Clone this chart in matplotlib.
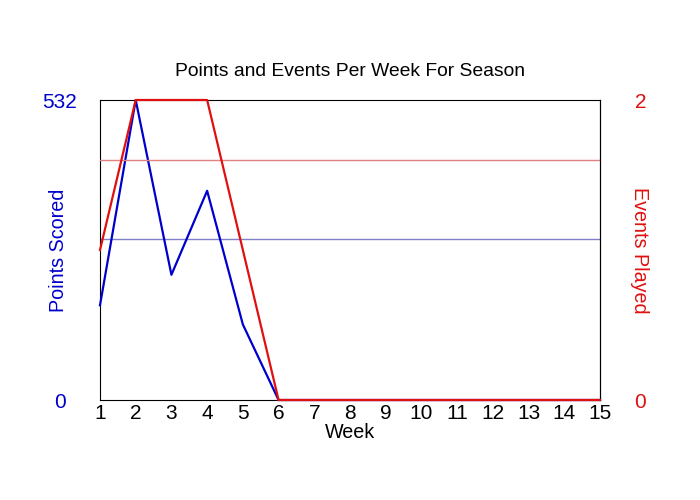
import matplotlib
matplotlib.use("Agg")
import matplotlib.pyplot as plt

plt.rcParams['font.family'] = ['Liberation Sans', 'DejaVu Sans']

weeks = list(range(1, 16))
points = [168, 532, 222, 371, 134, 0, 0, 0, 0, 0, 0, 0, 0, 0, 0]
events = [1, 2, 2, 2, 1, 0, 0, 0, 0, 0, 0, 0, 0, 0, 0]
played_weeks = 5  # weeks with events, used for the average lines

avg_points = sum(points[:played_weeks]) / played_weeks
avg_events = sum(events[:played_weeks]) / played_weeks

fig = plt.figure(figsize=(7, 5), dpi=100)
ax = fig.add_axes([100 / 700, 0.2, 500 / 700, 0.6])
ax2 = ax.twinx()
for side in ['left', 'top', 'bottom']:
    ax2.spines[side].set_visible(False)

ax.axhline(avg_points, color='#8080c8', lw=1)
ax2.axhline(avg_events, color='#e08080', lw=1)
ax.plot(weeks, points, color='#0000cc', lw=1.6, clip_on=False, zorder=3)
ax2.plot(weeks, events, color='#e01010', lw=1.6, clip_on=False, zorder=3)

ax.set_xlim(1, 15)
ax.set_ylim(0, max(points))
ax2.set_ylim(0, max(events))
ax.set_xticks(weeks)
ax.set_yticks([0, max(points)])
ax2.set_yticks([0, max(events)])

ax.tick_params(axis='x', length=0, pad=3, labelsize=15)
ax.tick_params(axis='y', length=0, pad=29, labelsize=15, labelcolor='#0000cc')
ax2.tick_params(axis='y', length=0, pad=29, labelsize=15, labelcolor='#e01010')
for lbl in ax.get_yticklabels() + ax2.get_yticklabels():
    lbl.set_horizontalalignment('center')

ax.set_xlabel('Week', fontsize=14.2, va='center')
ax.xaxis.set_label_coords(0.5, -32 / 300)
ax.set_ylabel('Points Scored', fontsize=14.2, color='#0000cc', va='center')
ax.yaxis.set_label_coords(-42 / 500, 0.5)
ax2.set_ylabel('Events Played', fontsize=14.2, color='#e01010', rotation=-90, va='center')
ax2.yaxis.set_label_coords(540 / 500, 0.5)
ax.text(0.5, 328 / 300, 'Points and Events Per Week For Season', fontsize=13.9,
        ha='center', va='center', transform=ax.transAxes)

fig.savefig('out.png', dpi=100)
